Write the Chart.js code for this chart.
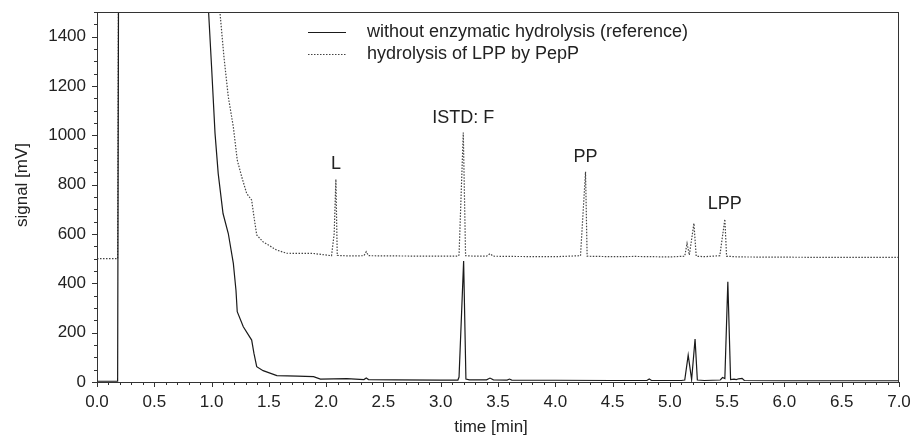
<!DOCTYPE html>
<html>
<head>
<meta charset="utf-8">
<script src="https://cdn.jsdelivr.net/npm/chart.js@4.4.1/dist/chart.umd.min.js"></script>
<style>
html,body{margin:0;padding:0;background:#fff;}
#wrap{width:917px;height:435px;position:relative;}
</style>
</head>
<body>
<div id="wrap"><canvas id="c" width="917" height="435"></canvas></div>
<script>
// Reference chromatogram (without enzymatic hydrolysis)
const refTime = [0.0, 0.10, 0.18, 0.19, 0.90, 0.974, 1.0, 1.03, 1.058, 1.10, 1.146, 1.19, 1.213, 1.224, 1.277, 1.35, 1.37, 1.394, 1.45, 1.57, 1.75, 1.89, 1.95, 2.18, 2.33, 2.35, 2.37, 2.6, 3.0, 3.15, 3.16, 3.20, 3.22, 3.25, 3.40, 3.43, 3.46, 3.58, 3.60, 3.62, 4.0, 4.5, 4.80, 4.82, 4.84, 5.10, 5.13, 5.16, 5.19, 5.22, 5.24, 5.30, 5.44, 5.46, 5.48, 5.506, 5.53, 5.56, 5.58, 5.60, 5.63, 5.65, 6.0, 6.5, 7.0];
const refSignal = [3, 3, 3, 2000, 2000, 1500, 1278, 1009, 845, 683, 602, 481, 372, 285, 224, 170, 116, 62, 46, 26, 24, 22, 12, 14, 10, 16, 10, 9, 8, 8, 20, 490, 12, 9, 9, 16, 9, 8, 12, 8, 7, 6, 6, 12, 6, 6, 8, 109, 10, 174, 8, 6, 8, 18, 14, 406, 10, 12, 10, 13, 15, 6, 5, 5, 5];

// Hydrolysis of LPP by PepP
const hydTime = [0.0, 0.10, 0.18, 0.19, 1.00, 1.073, 1.108, 1.146, 1.19, 1.224, 1.263, 1.306, 1.35, 1.37, 1.394, 1.45, 1.568, 1.655, 1.89, 2.047, 2.07, 2.085, 2.097, 2.2, 2.33, 2.35, 2.37, 2.6, 3.0, 3.15, 3.16, 3.197, 3.217, 3.3, 3.40, 3.43, 3.46, 3.6, 4.0, 4.22, 4.264, 4.278, 4.5, 4.7, 5.0, 5.13, 5.15, 5.17, 5.21, 5.23, 5.30, 5.436, 5.48, 5.495, 5.6, 6.0, 6.5, 7.0];
const hydSignal = [500, 500, 500, 2000, 2000, 1500, 1318, 1156, 1034, 900, 832, 765, 737, 670, 596, 568, 535, 522, 521, 512, 600, 822, 513, 511, 512, 528, 512, 511, 510, 510, 515, 1011, 512, 510, 510, 520, 510, 509, 508, 512, 852, 510, 508, 509, 507, 510, 562, 515, 643, 510, 508, 512, 660, 510, 507, 506, 505, 505];

const seriesLabels = ['without enzymatic hydrolysis (reference)', 'hydrolysis of LPP by PepP'];
const peakNames = ['L', 'ISTD: F', 'PP', 'LPP'];
const peakTimes = [2.085, 3.197, 4.264, 5.48];
const peakHeights = [822, 1011, 852, 660];

const xTicks = [0, 0.5, 1, 1.5, 2, 2.5, 3, 3.5, 4, 4.5, 5, 5.5, 6, 6.5, 7];
const yTicks = [0, 200, 400, 600, 800, 1000, 1200, 1400];

const FONT = '"Liberation Sans", Arial, Helvetica, sans-serif';
const AX = '#333';

const refData = refTime.map((t, i) => ({x: t, y: refSignal[i]}));
const hydData = hydTime.map((t, i) => ({x: t, y: hydSignal[i]}));

const decor = {
  id: 'decor',
  afterDraw(chart) {
    const ctx = chart.ctx;
    const a = chart.chartArea;
    const xs = chart.scales.x, ys = chart.scales.y;
    ctx.save();
    // frame
    ctx.strokeStyle = AX;
    ctx.lineWidth = 1;
    ctx.strokeRect(a.left + 0.5, a.top + 0.5, a.right - a.left - 1, a.bottom - a.top);
    // x ticks (major every 0.5, minor every 0.1)
    ctx.beginPath();
    for (let i = 0; i <= 70; i++) {
      const v = i / 10;
      const px = Math.round(xs.getPixelForValue(v)) + 0.5;
      const len = (i % 5 === 0) ? 5 : 3;
      ctx.moveTo(px, a.bottom);
      ctx.lineTo(px, a.bottom + len);
    }
    // y ticks (major every 200, minor every 50)
    for (let v = 0; v <= 1500; v += 50) {
      const py = Math.round(ys.getPixelForValue(v)) + 0.5;
      const len = (v % 200 === 0) ? 5 : 3;
      ctx.moveTo(a.left, py);
      ctx.lineTo(a.left - len, py);
    }
    ctx.stroke();

    // axis titles
    ctx.fillStyle = '#222';
    ctx.font = '17px ' + FONT;
    ctx.textAlign = 'center';
    ctx.textBaseline = 'middle';
    ctx.fillText('time [min]', 491, 427);
    ctx.save();
    ctx.translate(22, 185);
    ctx.rotate(-Math.PI / 2);
    ctx.fillText('signal [mV]', 0, 0);
    ctx.restore();

    // peak annotations
    ctx.font = '18px ' + FONT;
    ctx.textBaseline = 'bottom';
    peakNames.forEach((n, i) => {
      const px = xs.getPixelForValue(peakTimes[i]);
      const py = ys.getPixelForValue(peakHeights[i]);
      ctx.fillText(n, px, py - 6);
    });

    // legend
    const ds = chart.data.datasets;
    ctx.textAlign = 'left';
    ctx.textBaseline = 'middle';
    ctx.font = '18px ' + FONT;
    const rows = [32, 54];
    ds.forEach((d, i) => {
      ctx.save();
      ctx.strokeStyle = d.borderColor;
      ctx.lineWidth = d.borderWidth;
      ctx.setLineDash(d.borderDash || []);
      ctx.beginPath();
      ctx.moveTo(308, rows[i] + 0.5);
      ctx.lineTo(346, rows[i] + 0.5);
      ctx.stroke();
      ctx.restore();
      ctx.fillStyle = '#222';
      ctx.fillText(d.label, 367, rows[i]);
    });
    ctx.restore();
  }
};

new Chart(document.getElementById('c'), {
  type: 'line',
  data: {
    datasets: [
      {label: seriesLabels[0], data: refData, borderColor: '#1a1a1a', borderWidth: 1.2, pointRadius: 0, tension: 0, fill: false},
      {label: seriesLabels[1], data: hydData, borderColor: '#444', borderWidth: 1.2, borderDash: [1.5, 1.5], pointRadius: 0, tension: 0, fill: false}
    ]
  },
  options: {
    responsive: false,
    animation: false,
    events: [],
    layout: {padding: 0},
    plugins: {legend: {display: false}, tooltip: {enabled: false}},
    scales: {
      x: {
        type: 'linear', min: 0, max: 7,
        afterFit(s) { s.height = 53; s.paddingLeft = 0; s.paddingRight = 18; },
        afterBuildTicks(s) { s.ticks = xTicks.map(v => ({value: v})); },
        grid: {display: false, drawTicks: false},
        border: {display: false},
        ticks: {padding: 10, color: '#222', font: {family: FONT, size: 17}, callback: v => v.toFixed(1), maxRotation: 0, autoSkip: false}
      },
      y: {
        type: 'linear', min: 0, max: 1500,
        afterFit(s) { s.width = 97; s.paddingTop = 12; s.paddingBottom = 0; },
        afterBuildTicks(s) { s.ticks = yTicks.map(v => ({value: v})); },
        grid: {display: false, drawTicks: false},
        border: {display: false},
        ticks: {padding: 11, color: '#222', font: {family: FONT, size: 17}, callback: v => String(v), autoSkip: false}
      }
    }
  },
  plugins: [decor]
});
</script>
</body>
</html>
